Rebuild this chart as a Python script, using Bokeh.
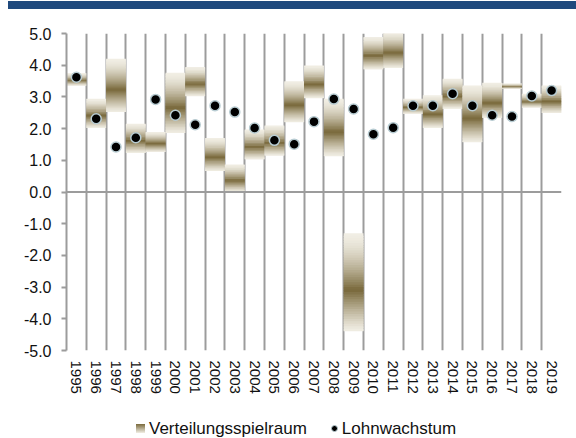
from bokeh.plotting import figure
from bokeh.models import (Range1d, FixedTicker, PrintfTickFormatter, Span,
                          ColumnDataSource, Div)
from bokeh.layouts import column
from bokeh.embed import file_html
from bokeh.resources import INLINE

years = [str(y) for y in range(1995, 2020)]
spiel_lo = [3.35, 2.02, 2.52, 1.23, 1.26, 1.86, 3.02, 0.66, 0.00, 1.03, 1.15, 2.20, 2.96,
            1.13, -4.39, 3.87, 3.91, 2.47, 2.02, 2.63, 1.57, 2.34, 3.25, 2.66, 2.49]
spiel_hi = [3.75, 2.94, 4.20, 2.15, 1.89, 3.76, 3.94, 1.70, 0.87, 1.97, 2.10, 3.49, 3.99,
            2.94, -1.30, 4.89, 5.05, 2.94, 3.05, 3.57, 3.36, 3.45, 3.42, 3.10, 3.36]
lohn = [3.62, 2.31, 1.42, 1.71, 2.92, 2.42, 2.12, 2.72, 2.52, 2.02, 1.63, 1.51, 2.22, 2.93,
        2.62, 1.82, 2.03, 2.72, 2.72, 3.10, 2.72, 2.42, 2.38, 3.03, 3.20]
y_ticks = [-5, -4, -3, -2, -1, 0, 1, 2, 3, 4, 5]
series_names = ["Verteilungsspielraum", "Lohnwachstum"]

LIGHT = (241, 238, 228)
DARK = (120, 104, 58)

def shade(f):
    # f: 0 at top, 1 at bottom of bar
    c = 0.58
    if f < c:
        t = (f / c) ** 1.6
    else:
        t = ((1 - f) / (1 - c)) ** 1.2
    r = [int(round(LIGHT[i] + (DARK[i] - LIGHT[i]) * t)) for i in range(3)]
    return "#%02x%02x%02x" % tuple(r)

N = 40
left, right, bottom, top, colors = [], [], [], [], []
for i in range(len(years)):
    lo, hi = spiel_lo[i], spiel_hi[i]
    h = (hi - lo) / N
    for k in range(N):
        f = (k + 0.5) / N
        left.append(i)
        right.append(i + 1)
        top.append(hi - k * h)
        bottom.append(max(lo, hi - (k + 1) * h - h * 0.8))
        colors.append(shade(f))

p = figure(width=576, height=391, output_backend="svg", toolbar_location=None,
           x_range=Range1d(0, 25), y_range=Range1d(-5, 5),
           min_border_left=66, min_border_right=15, min_border_top=24, min_border_bottom=50)
p.outline_line_color = None
p.background_fill_color = "white"
p.border_fill_color = "white"

p.quad(left=left, right=right, bottom=bottom, top=top, fill_color=colors, line_color=None)

# vertical gridlines at category boundaries
p.xgrid.ticker = FixedTicker(ticks=list(range(0, 26)))
p.xgrid.grid_line_color = "#9c9c9c"
p.xgrid.grid_line_width = 2
p.xgrid.level = "underlay"
p.ygrid.grid_line_color = None

zero = Span(location=0, dimension="width", line_color="#9c9c9c", line_width=2)
p.add_layout(zero)

src = ColumnDataSource(dict(x=[i + 0.5 for i in range(len(years))], y=lohn))
p.scatter("x", "y", source=src, size=10, fill_color="black",
          line_color="#b8ccd2", line_width=1.5)

# x axis
p.xaxis.ticker = FixedTicker(ticks=[i + 0.5 for i in range(len(years))])
p.xaxis.major_label_overrides = {i + 0.5: years[i] for i in range(len(years))}
p.xaxis.major_label_orientation = "vertical"
p.xaxis.axis_line_color = None
p.xaxis.major_tick_line_color = None
p.xaxis.minor_tick_line_color = None
p.xaxis.major_label_standoff = 4
p.xaxis.major_label_text_font = "Liberation Sans"
p.xaxis.major_label_text_font_size = "15px"
p.xaxis.major_label_text_color = "#111111"

# y axis
p.yaxis.ticker = FixedTicker(ticks=y_ticks)
p.yaxis.formatter = PrintfTickFormatter(format="%.1f")
p.yaxis.axis_line_color = "#9c9c9c"
p.yaxis.axis_line_width = 2
p.yaxis.major_tick_line_color = "#9c9c9c"
p.yaxis.major_tick_line_width = 2
p.yaxis.major_tick_out = 5
p.yaxis.major_tick_in = 0
p.yaxis.minor_tick_line_color = None
p.yaxis.major_label_standoff = 10
p.yaxis.major_label_text_font = "Liberation Sans"
p.yaxis.major_label_text_font_size = "16px"
p.yaxis.major_label_text_color = "#111111"

band = Div(text="", width=568, height=8, margin=(1, 0, 0, 8),
           styles={"background-color": "#1f497d"})

legend_html = (
    '<div style="font-family:\'Liberation Sans\',Arial,sans-serif;font-size:17px;'
    'color:#111111;white-space:nowrap;line-height:19px;padding-top:18px;padding-left:136px;">'
    '<span style="display:inline-block;width:9px;height:9px;vertical-align:middle;'
    'background:linear-gradient(#7a6a3c,#f1eee4);"></span>'
    '<span style="vertical-align:middle;margin-left:4px;">' + series_names[0] + '</span>'
    '<span style="display:inline-block;width:7px;height:7px;border-radius:50%;background:#000;'
    'border:1.5px solid #b8ccd2;vertical-align:middle;margin-left:24px;"></span>'
    '<span style="vertical-align:middle;margin-left:4px;">' + series_names[1] + '</span>'
    '</div>'
)
leg = Div(text=legend_html, width=576, height=38, margin=0)

layout = column(band, p, leg, spacing=0)
open("out.html", "w").write(file_html(layout, INLINE))
